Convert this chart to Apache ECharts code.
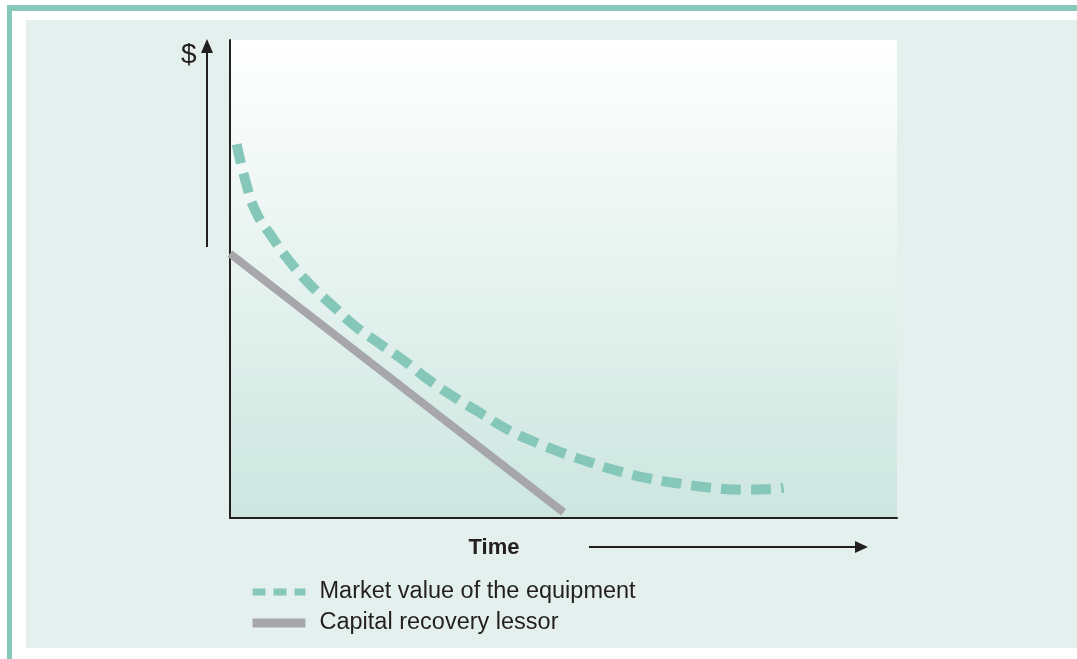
<!DOCTYPE html>
<html>
<head>
    <meta charset="utf-8" />
    <title>Market value vs capital recovery</title>
    <style>
        html, body { margin: 0; padding: 0; background: #fff; }
        #main { width: 1077px; height: 659px; }
    </style>
</head>
<body>
    <div id="main"></div>
    <script src="https://cdn.jsdelivr.net/npm/echarts@6/dist/echarts.min.js"></script>
    <script type="text/javascript">
        // time (0..100) and value (0..100)
        var marketX = [1.0, 2.4, 3.9, 6.3, 9.0, 12.1, 15.4, 18.7, 22.5, 26.4, 29.8, 33.6, 37.5, 41.5, 45.7, 49.9, 54.3, 58.8, 63.1, 67.8, 72.3, 76.9, 81.4, 83.0];
        var marketY = [78.2, 70.1, 64.0, 58.8, 53.6, 48.7, 44.4, 40.2, 36.4, 32.6, 28.9, 25.3, 22.0, 18.6, 15.9, 13.6, 11.5, 9.6, 8.2, 7.1, 6.3, 5.9, 6.1, 6.3];
        var recoveryX = [0, 50];
        var recoveryY = [55.3, 1.2];
        var seriesNames = ['Market value of the equipment', 'Capital recovery lessor'];

        var teal = '#85c7b9';
        var grey = '#a7a7ab';
        var ink = '#231f20';

        function pairs(xs, ys) {
            return xs.map(function (x, i) { return [x, ys[i]]; });
        }

        var chart = echarts.init(document.getElementById('main'));
        var hidden = { color: 'rgba(0,0,0,0)', borderWidth: 0 };
        var option = {
            backgroundColor: '#fff',
            animation: false,
            grid: {
                left: 230, right: 180, top: 40, bottom: 141,
                show: true,
                borderWidth: 0,
                backgroundColor: new echarts.graphic.LinearGradient(0, 0, 0, 1, [
                    { offset: 0, color: '#ffffff' },
                    { offset: 1, color: '#cce6df' }
                ])
            },
            xAxis: {
                type: 'value', min: 0, max: 100,
                axisLine: { show: true, lineStyle: { color: ink, width: 2 } },
                axisTick: { show: false }, axisLabel: { show: false }, splitLine: { show: false }
            },
            yAxis: {
                type: 'value', min: 0, max: 100,
                axisLine: { show: true, lineStyle: { color: ink, width: 2 } },
                axisTick: { show: false }, axisLabel: { show: false }, splitLine: { show: false }
            },
            legend: {
                orient: 'vertical',
                left: 248, top: 580,
                padding: 0,
                itemWidth: 53, itemHeight: 22, itemGap: 7,
                textStyle: { fontFamily: 'Liberation Sans', fontSize: 23.5, color: ink, padding: [0, 0, 0, 9] },
                data: [
                    { name: seriesNames[0], itemStyle: hidden, lineStyle: { type: [13, 8], width: 7, color: teal } },
                    { name: seriesNames[1], itemStyle: hidden, lineStyle: { type: 'solid', width: 9, color: grey } }
                ]
            },
            series: [
                {
                    name: seriesNames[0], type: 'line', smooth: true, symbol: 'none',
                    data: pairs(marketX, marketY),
                    lineStyle: { color: teal, width: 10, type: [20, 10] },
                    itemStyle: { color: teal }
                },
                {
                    name: seriesNames[1], type: 'line', symbol: 'none',
                    data: pairs(recoveryX, recoveryY),
                    lineStyle: { color: grey, width: 8 },
                    itemStyle: { color: grey }
                }
            ],
            graphic: [
                { type: 'rect', z: -100, shape: { x: 26, y: 20, width: 1051, height: 628 }, style: { fill: '#e4f0ed' } },
                { type: 'rect', z: -100, shape: { x: 7, y: 5, width: 1070, height: 6 }, style: { fill: '#86c8ba' } },
                { type: 'rect', z: -100, shape: { x: 7, y: 5, width: 5, height: 654 }, style: { fill: '#86c8ba' } },
                // $ arrow
                { type: 'line', shape: { x1: 207, y1: 247, x2: 207, y2: 50 }, style: { stroke: ink, lineWidth: 2 } },
                { type: 'polygon', shape: { points: [[201, 53], [213, 53], [207, 39]] }, style: { fill: ink } },
                { type: 'text', x: 181, y: 41, style: { text: '$', font: '28px "Liberation Sans"', fill: ink } },
                // time arrow
                { type: 'text', x: 494, y: 548, style: { text: 'Time', font: 'bold 22px "Liberation Sans"', fill: ink, align: 'center', verticalAlign: 'middle' } },
                { type: 'line', shape: { x1: 589, y1: 547, x2: 858, y2: 547 }, style: { stroke: ink, lineWidth: 2 } },
                { type: 'polygon', shape: { points: [[855, 541], [855, 553], [868, 547]] }, style: { fill: ink } }
            ]
        };
        chart.setOption(option);
    </script>
</body>
</html>
